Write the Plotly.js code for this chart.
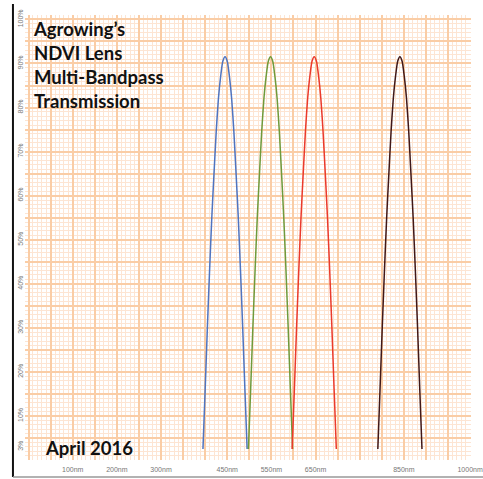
<!DOCTYPE html>
<html>
<head>
<meta charset="utf-8">
<script src="https://cdn.plot.ly/plotly-3.0.1.min.js"></script>
<style>
html,body{margin:0;padding:0;background:#fff;}
#chart{width:483px;height:479px;}
</style>
</head>
<body>
<div id="chart"></div>
<script>
// Wavelength tick labels (nm) and transmission tick labels (%)
const xTickVals = [100, 200, 300, 450, 550, 650, 850, 1000];
const xTickText = ["100nm", "200nm", "300nm", "450nm", "550nm", "650nm", "850nm", "1000nm"];
const yTickVals = [3, 10, 20, 30, 40, 50, 60, 70, 80, 90, 100];
const yTickText = ["3%", "10%", "20%", "30%", "40%", "50%", "60%", "70%", "80%", "90%", "100%"];

// Band curves (wavelength nm, transmission %)
const blueX  = [395, 400, 405, 410, 415, 420, 425, 430, 435, 440, 445, 450, 455, 460, 465, 470, 475, 480, 485, 490, 495];
const blueY  = [2.5, 16, 30, 43, 55, 65, 74.5, 82, 87, 90.5, 91.5, 90.5, 87, 82, 74.5, 65, 55, 43, 30, 16, 2.5];
const greenX = [498, 503, 508, 513, 518, 523, 528, 533, 538, 543, 548, 553, 558, 563, 568, 573, 578, 583, 588, 593, 598];
const greenY = [2.5, 16, 30, 43, 55, 65, 74.5, 82, 87, 90.5, 91.5, 90.5, 87, 82, 74.5, 65, 55, 43, 30, 16, 2.5];
const redX   = [597, 602, 607, 612, 617, 622, 627, 632, 637, 642, 647, 652, 657, 662, 667, 672, 677, 682, 687, 692, 697];
const redY   = [2.5, 16, 30, 43, 55, 65, 74.5, 82, 87, 90.5, 91.5, 90.5, 87, 82, 74.5, 65, 55, 43, 30, 16, 2.5];
const nirX   = [791, 796, 801, 806, 811, 816, 821, 826, 831, 836, 841, 846, 851, 856, 861, 866, 871, 876, 881, 886, 891];
const nirY   = [2.5, 16, 30, 43, 55, 65, 74.5, 82, 87, 90.5, 91.5, 90.5, 87, 82, 74.5, 65, 55, 43, 30, 16, 2.5];

const titleLines = ["Agrowing’s", "NDVI Lens", "Multi-Bandpass", "Transmission"];
const dateText = "April 2016";

const xRange = [-8, 1002];
const yRange = [0, 101];

function curve(x, y, color) {
  return {x: x, y: y, type: "scatter", mode: "lines", xaxis: "x", yaxis: "y",
    line: {color: color, width: 1.5, shape: "spline", smoothing: 0.6},
    hoverinfo: "skip", showlegend: false};
}
function empty(xa, ya) {
  return {x: [], y: [], xaxis: xa, yaxis: ya, type: "scatter", mode: "lines", showlegend: false, hoverinfo: "skip"};
}

const data = [
  empty("x2", "y2"),
  empty("x3", "y3"),
  curve(blueX, blueY, "#4f74c0"),
  curve(greenX, greenY, "#6f9a3c"),
  curve(redX, redY, "#ea3a2c"),
  curve(nirX, nirY, "#401818")
];

const boldGrid = "#facda6";
const fineGrid = "#fde5d3";
const tickFont = {family: "Liberation Sans, Arial, sans-serif", size: 7, color: "#777"};

function gridAxis(over, anchor, range, dtick, color, width) {
  return {overlaying: over, anchor: anchor, range: range, tickmode: "linear", tick0: 0, dtick: dtick,
    showticklabels: false, ticks: "", zeroline: false, showline: false,
    showgrid: true, gridcolor: color, gridwidth: width};
}

const layout = {
  width: 483, height: 479,
  margin: {l: 25, r: 12, t: 15, b: 19, pad: 0},
  paper_bgcolor: "#ffffff",
  plot_bgcolor: "#ffffff",
  showlegend: false,
  xaxis: {
    range: xRange, tickmode: "array", tickvals: xTickVals, ticktext: xTickText,
    showgrid: false, zeroline: false, showline: false, ticks: "", ticklabelstandoff: 4,
    ticklabeloverflow: "allow", tickfont: tickFont
  },
  yaxis: {
    range: yRange, tickmode: "array", tickvals: yTickVals, ticktext: yTickText, tickangle: -90,
    showgrid: false, zeroline: false, showline: false, ticks: "",
    ticklabeloverflow: "allow", tickfont: tickFont
  },
  xaxis2: gridAxis("x", "y2", xRange, 10, fineGrid, 1),
  yaxis2: gridAxis("y", "x2", yRange, 1, fineGrid, 1),
  xaxis3: gridAxis("x", "y3", xRange, 50, boldGrid, 2),
  yaxis3: gridAxis("y", "x3", yRange, 5, boldGrid, 2),
  shapes: [
    {type: "line", xref: "paper", yref: "paper", x0: -0.027, x1: -0.027, y0: -0.038, y1: 1.025,
     line: {color: "#111", width: 2}},
    {type: "line", xref: "paper", yref: "paper", x0: -0.027, x1: 1.03, y0: -0.038, y1: -0.038,
     line: {color: "#999", width: 1.5}}
  ],
  annotations: [
    {xref: "paper", yref: "paper", x: 0.014, y: 0.998, xanchor: "left", yanchor: "top", align: "left",
     showarrow: false, text: "<b>" + titleLines.join("<br>") + "</b>",
     font: {family: "Lato, Open Sans, sans-serif", size: 18.5, color: "#111"}},
    {xref: "paper", yref: "paper", x: 0.04, y: 0.027, xanchor: "left", yanchor: "middle", align: "left",
     showarrow: false, text: "<b>" + dateText + "</b>",
     font: {family: "Lato, Open Sans, sans-serif", size: 18.5, color: "#111"}}
  ]
};

Plotly.newPlot("chart", data, layout, {staticPlot: true, displayModeBar: false});
</script>
</body>
</html>
